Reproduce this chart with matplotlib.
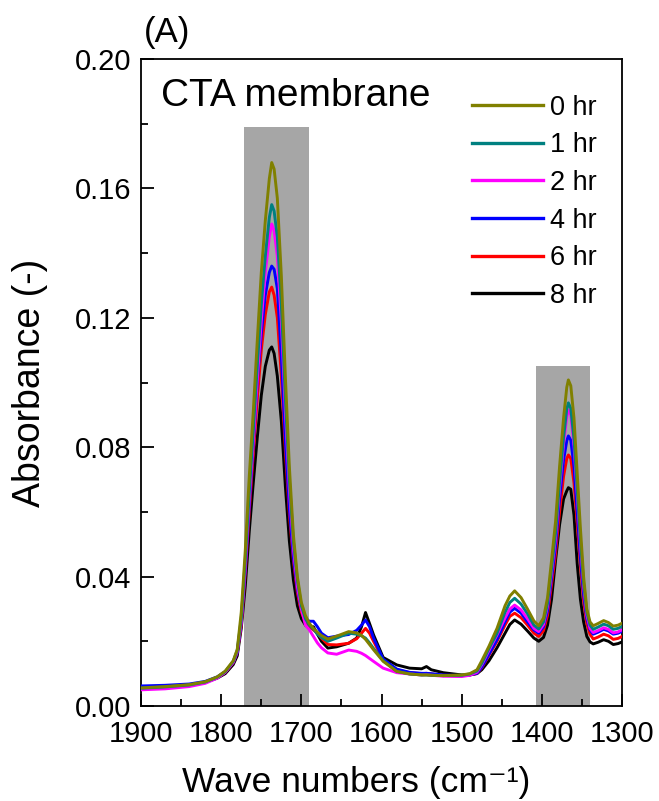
import matplotlib
matplotlib.use("Agg")
import matplotlib.pyplot as plt
from matplotlib.patches import Rectangle
from matplotlib.ticker import MultipleLocator

plt.rcParams['font.family'] = ['Liberation Sans', 'DejaVu Sans']

wavenumber = [1900, 1870, 1840, 1820, 1805, 1795, 1785, 1780, 1775, 1770,
              1765, 1760, 1755, 1750, 1745, 1740, 1737, 1734, 1730, 1725,
              1720, 1715, 1710, 1705, 1700, 1695, 1690, 1685, 1680, 1675,
              1667, 1656, 1641, 1631, 1625, 1620, 1615, 1610, 1598, 1581,
              1565, 1550, 1544, 1538, 1523, 1500, 1490, 1481, 1475, 1466,
              1456, 1446, 1440, 1434, 1426, 1418, 1410, 1404, 1398, 1393,
              1388, 1383, 1378, 1373, 1369, 1367, 1364, 1360, 1356, 1352,
              1348, 1344, 1340, 1336, 1330, 1323, 1317, 1311, 1305, 1300]

abs_0hr = [.0056, .0060, .0066, .0075, .0090, .0108, .0140, .0175, .029, .048,
           .071, .091, .113, .134, .150, .163, .168, .166, .157, .133,
           .102, .074, .053, .040, .032, .028, .0255, .0240, .0228, .0218,
           .0207, .0216, .0230, .0226, .0218, .0206, .0190, .0174, .0138, .0107,
           .0099, .0096, .0096, .0095, .0094, .0096, .0100, .0112, .0140, .0185,
           .0240, .0310, .0340, .0356, .0335, .0300, .0263, .0248, .0272, .0335,
           .0450, .0570, .0740, .0890, .0985, .1008, .0990, .0890, .0720, .0550,
           .0400, .0300, .0260, .0248, .0255, .0264, .0258, .0247, .0250, .0256]

abs_1hr = [.0055, .0059, .0065, .0074, .0089, .0106, .0138, .0172, .027, .045,
           .066, .085, .105, .124, .139, .151, .155, .153, .145, .124,
           .095, .070, .051, .039, .031, .027, .0250, .0238, .0222, .0212,
           .0200, .0210, .0225, .0222, .0217, .0210, .0195, .0178, .0140, .0107,
           .0099, .0096, .0096, .0095, .0094, .0095, .0099, .0108, .0132, .0178,
           .0225, .0290, .0320, .0333, .0315, .0285, .0250, .0238, .0260, .0318,
           .0425, .0535, .0690, .0830, .0918, .0937, .0920, .0825, .0670, .0515,
           .0380, .0290, .0250, .0237, .0244, .0253, .0248, .0237, .0240, .0246]

abs_2hr = [.0050, .0053, .0060, .0070, .0086, .0104, .0135, .0168, .026, .043,
           .064, .082, .101, .119, .134, .145, .149, .147, .139, .119,
           .091, .067, .049, .037, .030, .025, .0235, .0215, .0195, .0180,
           .0164, .0160, .0173, .0169, .0163, .0156, .0147, .0138, .0117, .0103,
           .0099, .0096, .0097, .0095, .0092, .0091, .0095, .0104, .0128, .0172,
           .0220, .0272, .0300, .0312, .0297, .0270, .0240, .0230, .0252, .0310,
           .0415, .0520, .0675, .0810, .0895, .0915, .0900, .0805, .0655, .0500,
           .0370, .0282, .0240, .0227, .0233, .0242, .0237, .0226, .0229, .0236]

abs_4hr = [.0062, .0064, .0068, .0076, .0090, .0106, .0135, .0165, .026, .042,
           .062, .081, .100, .115, .127, .134, .136, .135, .129, .108,
           .082, .061, .046, .036, .030, .027, .0262, .0262, .0245, .0225,
           .0211, .0216, .0221, .0234, .0250, .0266, .0245, .0210, .0145, .0114,
           .0104, .0101, .0101, .0100, .0096, .0094, .0096, .0101, .0120, .0160,
           .0205, .0260, .0290, .0302, .0287, .0260, .0235, .0225, .0245, .0295,
           .0395, .0495, .0640, .0760, .0820, .0835, .0822, .0740, .0600, .0460,
           .0345, .0270, .0235, .0222, .0228, .0237, .0232, .0222, .0225, .0231]

abs_6hr = [.0055, .0059, .0065, .0074, .0088, .0104, .0134, .0165, .025, .041,
           .060, .078, .095, .110, .121, .128, .1295, .127, .120, .102,
           .079, .059, .045, .035, .029, .026, .0245, .0235, .0225, .0210,
           .0190, .0189, .0194, .0208, .0225, .0240, .0225, .0200, .0143, .0112,
           .0103, .0100, .0101, .0099, .0095, .0094, .0096, .0101, .0118, .0157,
           .0200, .0250, .0277, .0287, .0273, .0250, .0225, .0215, .0233, .0280,
           .0375, .0470, .0600, .0710, .0765, .0776, .0765, .0690, .0565, .0435,
           .0325, .0255, .0222, .0207, .0213, .0222, .0217, .0206, .0209, .0215]

abs_8hr = [.0056, .0059, .0064, .0073, .0086, .0100, .0128, .0155, .024, .037,
           .054, .069, .083, .096, .105, .110, .111, .109, .102, .088,
           .068, .051, .039, .031, .027, .025, .0240, .0245, .0222, .0200,
           .0179, .0183, .0194, .0210, .0245, .0289, .0255, .0220, .0150, .0127,
           .0117, .0115, .0122, .0112, .0103, .0096, .0096, .0100, .0112, .0140,
           .0180, .0225, .0252, .0266, .0253, .0232, .0210, .0200, .0212, .0250,
           .0330, .0450, .0560, .0640, .0665, .0675, .0670, .0590, .0440, .0330,
           .0260, .0215, .0198, .0192, .0197, .0205, .0200, .0190, .0193, .0198]

series_labels = ['0 hr', '1 hr', '2 hr', '4 hr', '6 hr', '8 hr']
series_values = [abs_0hr, abs_1hr, abs_2hr, abs_4hr, abs_6hr, abs_8hr]
series_colors = ['#808000', '#008080', '#ff00ff', '#0000ff', '#ff0000', '#000000']

# shaded bands: (high wavenumber, low wavenumber, top absorbance)
bands = [(1772, 1690, 0.179), (1407, 1340, 0.105)]

x_ticks = [1900, 1800, 1700, 1600, 1500, 1400, 1300]
y_ticks = [0.00, 0.04, 0.08, 0.12, 0.16, 0.20]

fig = plt.figure(figsize=(6.59, 8.01), dpi=100)
ax = fig.add_axes([0.214, 0.1186, 0.730, 0.8077])

for hi, lo, top in bands:
    ax.add_patch(Rectangle((lo, 0), hi - lo, top, facecolor='#a6a6a6',
                           edgecolor='none', zorder=1))

handles = {}
for lab, vals, col in reversed(list(zip(series_labels, series_values, series_colors))):
    ln, = ax.plot(wavenumber, vals, color=col, lw=2.1, label=lab, zorder=3)
    handles[lab] = ln

ax.set_xlim(1900, 1300)
ax.set_ylim(0, 0.20)
ax.set_xticks(x_ticks)
ax.set_yticks(y_ticks)
ax.set_yticklabels([f"{v:.2f}" for v in y_ticks])
ax.xaxis.set_minor_locator(MultipleLocator(50))
ax.yaxis.set_minor_locator(MultipleLocator(0.02))
ax.tick_params(which='both', direction='in', top=False, right=False,
               labelsize=21, width=1.3)
ax.tick_params(axis='x', which='major', length=9, pad=10)
ax.tick_params(axis='y', which='major', length=9, pad=7)
ax.tick_params(which='minor', length=5)
for sp in ax.spines.values():
    sp.set_linewidth(1.3)

ax.set_xlabel('Wave numbers (cm\u207b\u00b9)', fontsize=25.5)
ax.xaxis.set_label_coords(0.447, -0.092)
ax.set_ylabel('Absorbance (-)', fontsize=27, labelpad=19)

ax.text(0.042, 0.927, 'CTA membrane', transform=ax.transAxes, fontsize=28,
        va='baseline', ha='left')
fig.text(0.218, 0.9476, '(A)', fontsize=25, ha='left', va='baseline')

leg = ax.legend([handles[l] for l in series_labels], series_labels,
                loc='upper left', bbox_to_anchor=(0.688, 0.945), frameon=False,
                fontsize=19.5, handlelength=2.62, handletextpad=0.26,
                labelspacing=0.43, borderaxespad=0, borderpad=0)
for ln in leg.get_lines():
    ln.set_linewidth(2.4)

fig.savefig('out.png', dpi=100)
